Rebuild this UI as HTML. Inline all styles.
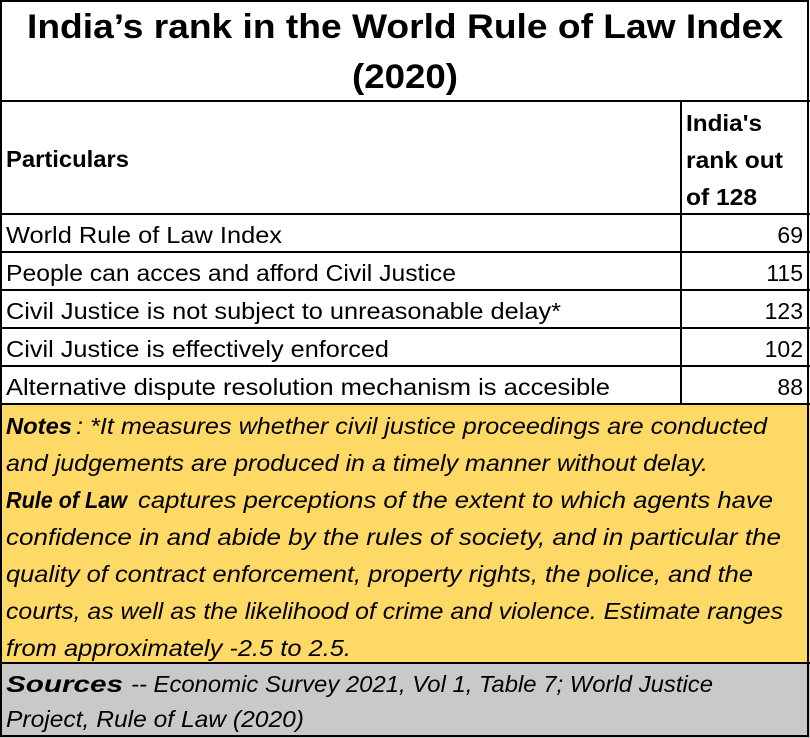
<!DOCTYPE html>
<html><head><meta charset="utf-8"><style>
html,body{margin:0;padding:0;background:#fff}
svg{display:block}
text{font-family:"Liberation Sans",sans-serif;fill:#000}
.b{font-weight:bold}
.i{font-style:italic}
</style></head><body>
<svg width="810" height="738" viewBox="0 0 810 738">
<rect x="0" y="404" width="810" height="259" fill="#FFD966"/>
<rect x="0" y="663" width="810" height="75" fill="#C9C9C9"/>
<g stroke="#000" stroke-width="2" fill="none">
<rect x="1" y="1" width="807" height="735"/>
<line x1="0" y1="101" x2="810" y2="101"/>
<line x1="0" y1="214" x2="810" y2="214"/>
<line x1="0" y1="252" x2="810" y2="252"/>
<line x1="0" y1="290" x2="810" y2="290"/>
<line x1="0" y1="328" x2="810" y2="328"/>
<line x1="0" y1="366" x2="810" y2="366"/>
<line x1="0" y1="404" x2="810" y2="404"/>
<line x1="0" y1="663" x2="810" y2="663"/>
<line x1="681" y1="101" x2="681" y2="404"/>
</g>
<text class="b" x="27" y="38" font-size="34" textLength="756" lengthAdjust="spacingAndGlyphs">India’s rank in the World Rule of Law Index</text>
<text class="b" x="352" y="88" font-size="34" textLength="106" lengthAdjust="spacingAndGlyphs">(2020)</text>
<text class="b" x="6" y="167" font-size="23" textLength="123" lengthAdjust="spacingAndGlyphs">Particulars</text>
<text class="b" x="686" y="131" font-size="23" textLength="76" lengthAdjust="spacingAndGlyphs">India's</text>
<text class="b" x="686" y="168" font-size="23" textLength="97" lengthAdjust="spacingAndGlyphs">rank out</text>
<text class="b" x="686" y="205" font-size="23" textLength="71" lengthAdjust="spacingAndGlyphs">of 128</text>
<g font-size="23">
<text x="6" y="243" textLength="276" lengthAdjust="spacingAndGlyphs">World Rule of Law Index</text>
<text x="803" y="243" text-anchor="end">69</text>
<text x="6" y="281" textLength="450" lengthAdjust="spacingAndGlyphs">People can acces and afford Civil Justice</text>
<text x="803" y="281" text-anchor="end">115</text>
<text x="6" y="319" textLength="555" lengthAdjust="spacingAndGlyphs">Civil Justice is not subject to unreasonable delay*</text>
<text x="803" y="319" text-anchor="end">123</text>
<text x="6" y="357" textLength="383" lengthAdjust="spacingAndGlyphs">Civil Justice is effectively enforced</text>
<text x="803" y="357" text-anchor="end">102</text>
<text x="6" y="395" textLength="604" lengthAdjust="spacingAndGlyphs">Alternative dispute resolution mechanism is accesible</text>
<text x="803" y="395" text-anchor="end">88</text>
</g>
<g font-size="23" class="i">
<text class="b i" x="6" y="434" textLength="66" lengthAdjust="spacingAndGlyphs">Notes</text>
<text class="i" x="76" y="434" textLength="691" lengthAdjust="spacingAndGlyphs">: *It measures whether civil justice proceedings are conducted</text>
<text class="i" x="6" y="471" textLength="702" lengthAdjust="spacingAndGlyphs">and judgements are produced in a timely manner without delay.</text>
<text class="b i" x="6" y="508" textLength="121" lengthAdjust="spacingAndGlyphs">Rule of Law</text>
<text class="i" x="138" y="508" textLength="635" lengthAdjust="spacingAndGlyphs">captures perceptions of the extent to which agents have</text>
<text class="i" x="6" y="545" textLength="775" lengthAdjust="spacingAndGlyphs">confidence in and abide by the rules of society, and in particular the</text>
<text class="i" x="6" y="582" textLength="747" lengthAdjust="spacingAndGlyphs">quality of contract enforcement, property rights, the police, and the</text>
<text class="i" x="6" y="619" textLength="777" lengthAdjust="spacingAndGlyphs">courts, as well as the likelihood of crime and violence. Estimate ranges</text>
<text class="i" x="6" y="656" textLength="345" lengthAdjust="spacingAndGlyphs">from approximately -2.5 to 2.5.</text>
</g>
<g font-size="23">
<text class="b i" x="6" y="692" textLength="117" lengthAdjust="spacingAndGlyphs">Sources</text>
<text class="i" x="131" y="692" textLength="582" lengthAdjust="spacingAndGlyphs">-- Economic Survey 2021, Vol 1, Table 7;  World Justice</text>
<text class="i" x="6" y="727" textLength="298" lengthAdjust="spacingAndGlyphs">Project, Rule of Law (2020)</text>
</g>
</svg>
</body></html>
